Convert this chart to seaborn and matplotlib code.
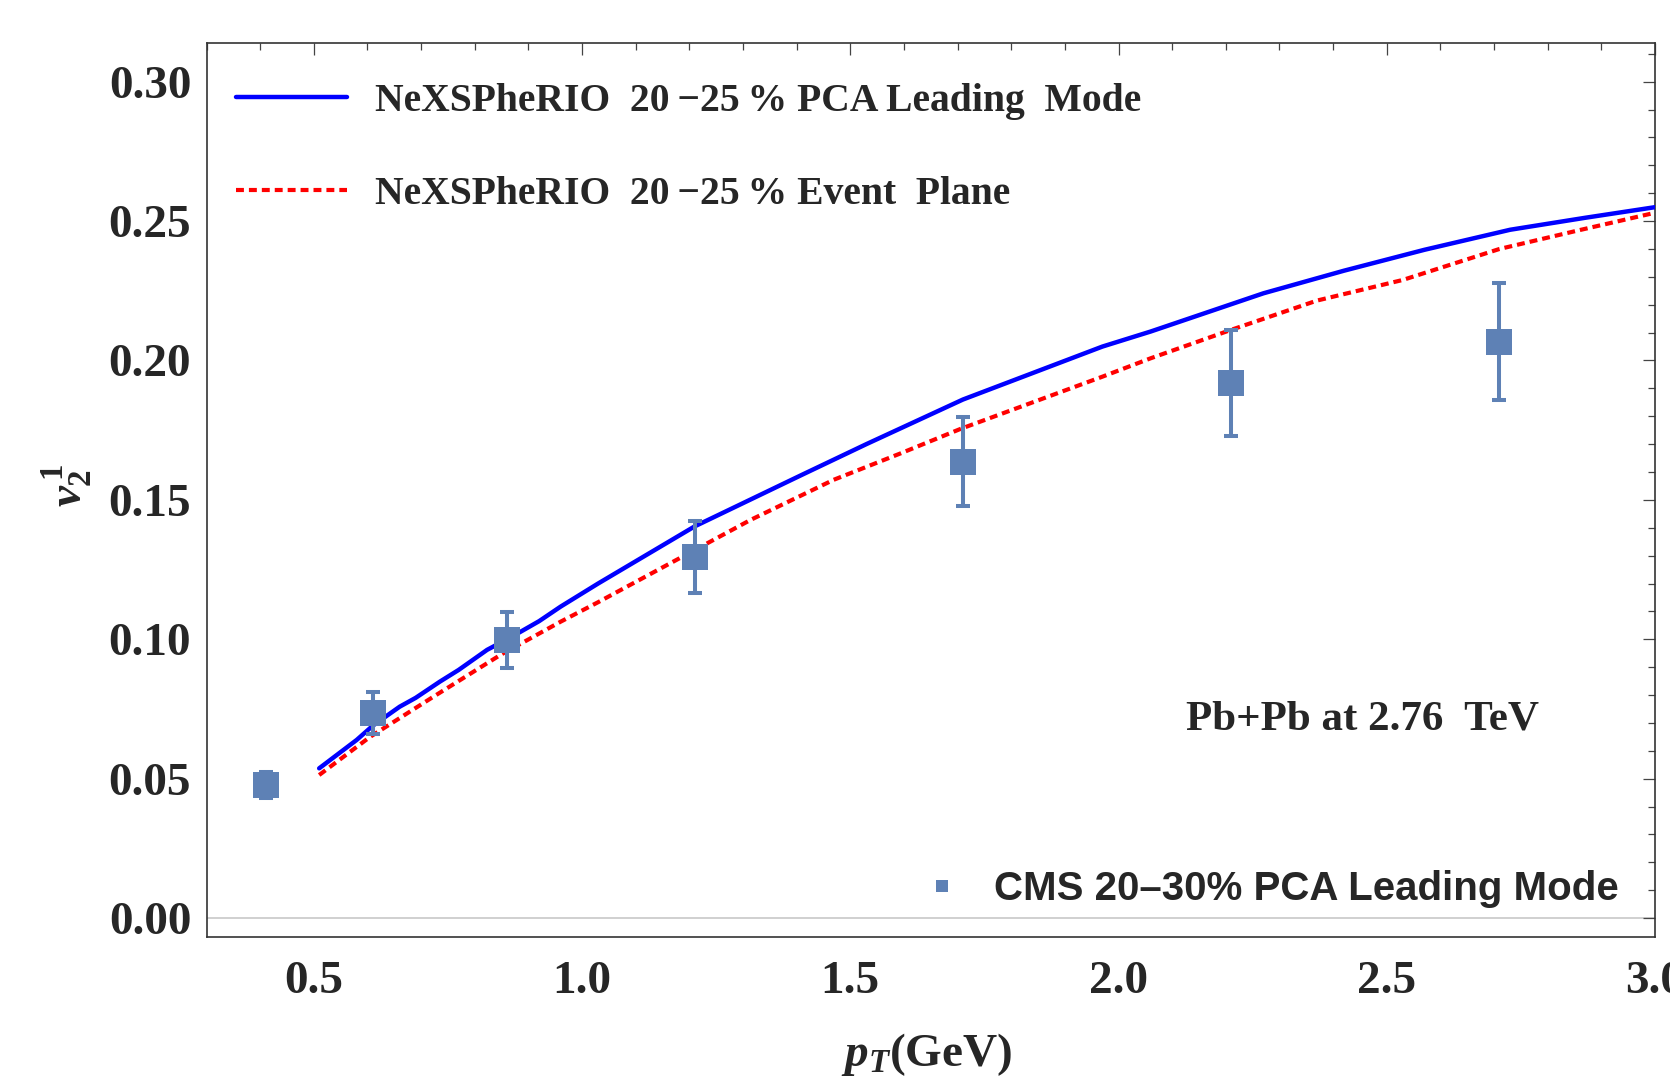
import numpy as np
import pandas as pd
import matplotlib
matplotlib.use("Agg")
import matplotlib.pyplot as plt
import seaborn as sns
from matplotlib.lines import Line2D
from matplotlib.ticker import MultipleLocator, FormatStrFormatter

# ---------------- data ----------------
pt_pca = [0.51, 0.58, 0.61, 0.66, 0.69, 0.735, 0.77, 0.823, 0.87, 0.92, 0.96, 1.03,
          1.21, 1.41, 1.53, 1.71, 1.84, 1.97, 2.06, 2.27, 2.42, 2.57, 2.73, 2.87, 3.0]
v2_pca = [0.0537, 0.0639, 0.0690, 0.0758, 0.0790, 0.0848, 0.0890, 0.0962, 0.1010,
          0.1065, 0.1117, 0.1200, 0.1405, 0.1590, 0.1700, 0.1860, 0.1955, 0.2050,
          0.2104, 0.2241, 0.2322, 0.2397, 0.2469, 0.2512, 0.2550]

pt_ep = [0.51, 0.605, 0.723, 0.848, 0.96, 1.03, 1.21, 1.314, 1.469, 1.594, 1.706,
         1.97, 2.06, 2.21, 2.37, 2.53, 2.71, 2.86, 3.0]
v2_ep = [0.0513, 0.0650, 0.0794, 0.0944, 0.1063, 0.1133, 0.1320, 0.1428, 0.1572,
         0.1667, 0.1755, 0.1942, 0.2008, 0.2110, 0.2215, 0.2289, 0.2400, 0.2468, 0.2530]

pt_cms = [0.41, 0.61, 0.86, 1.21, 1.71, 2.21, 2.71]
v2_cms = [0.0477, 0.0735, 0.0997, 0.1296, 0.1637, 0.1919, 0.2068]
err_cms = [0.0047, 0.0075, 0.0100, 0.0130, 0.0160, 0.0190, 0.0210]

label_pca = "NeXSPheRIO  20\u2009−25\u2009% PCA Leading  Mode"
label_ep = "NeXSPheRIO  20\u2009−25\u2009% Event  Plane"
label_cms = "CMS 20–30% PCA Leading Mode"
annot = "Pb+Pb at 2.76  TeV"

x_major = [0.5, 1.0, 1.5, 2.0, 2.5, 3.0]
y_major = [0.00, 0.05, 0.10, 0.15, 0.20, 0.25, 0.30]

# ---------------- style ----------------
sns.set_style("white")
plt.rcParams["font.family"] = ["Liberation Serif", "DejaVu Serif"]
plt.rcParams["font.weight"] = "bold"
plt.rcParams["mathtext.fontset"] = "custom"
plt.rcParams["mathtext.rm"] = "Liberation Serif:bold"
plt.rcParams["mathtext.it"] = "Liberation Serif:italic:bold"
plt.rcParams["mathtext.bf"] = "Liberation Serif:bold"

W, H = 1670, 1078
fig = plt.figure(figsize=(W / 100, H / 100), dpi=100)
left, right, top, bottom = 206.5, 1655, 42.7, 937
ax = fig.add_axes([left / W, (H - bottom) / H, (right - left) / W, (bottom - top) / H])

cms_color = "#5E81B5"

df_pca = pd.DataFrame({"pt": pt_pca, "v2": v2_pca})
df_ep = pd.DataFrame({"pt": pt_ep, "v2": v2_ep})
df_cms = pd.DataFrame({"pt": pt_cms, "v2": v2_cms, "err": err_cms})

ax.axhline(0, color="#c8c8c8", lw=1.2, zorder=0.5)

sns.lineplot(data=df_pca, x="pt", y="v2", ax=ax, color="#0000FF", linewidth=3.2,
             sort=False, legend=False, zorder=3)
sns.lineplot(data=df_ep, x="pt", y="v2", ax=ax, color="#FF0000", linewidth=3.0,
             sort=False, legend=False, zorder=3)
ax.lines[-1].set_dashes((1.9, 1.2))
ax.lines[-1].set_dash_capstyle("butt")

ax.errorbar(df_cms["pt"], df_cms["v2"], yerr=df_cms["err"], fmt="none",
            ecolor=cms_color, elinewidth=2.9, capsize=4.8, capthick=2.9, zorder=4)
sns.scatterplot(data=df_cms, x="pt", y="v2", ax=ax, marker="s", s=340,
                color=cms_color, linewidth=0, legend=False, zorder=5)

ax.set_xlim(0.3, 3.0)
ax.set_ylim(-0.0068, 0.314)
ax.xaxis.set_minor_locator(MultipleLocator(0.1))
ax.yaxis.set_minor_locator(MultipleLocator(0.01))
ax.set_xticks(x_major)
ax.set_yticks(y_major)
ax.xaxis.set_major_formatter(FormatStrFormatter("%.1f"))
ax.yaxis.set_major_formatter(FormatStrFormatter("%.2f"))

ax.tick_params(which="both", direction="in", top=True, right=True,
               color="#444444", width=0.9)
ax.tick_params(which="major", length=8.6, labelsize=34, pad=11)
ax.tick_params(which="minor", length=5)
ax.tick_params(axis="x", which="major", pad=17)
for lab in ax.get_xticklabels() + ax.get_yticklabels():
    lab.set_fontweight("bold")
for sp in ax.spines.values():
    sp.set_color("#333333")
    sp.set_linewidth(1.2)

ax.set_xlabel(r"$p_T$(GeV)", fontsize=34, fontweight="bold")
ax.set_ylabel(r"$v_2^{\,1}$", fontsize=34, fontweight="bold")
ax.xaxis.set_label_coords((927 - left) / (right - left), -(1031 - bottom) / (bottom - top))
ax.yaxis.set_label_coords((94 - left) / (right - left), (bottom - 485) / (bottom - top))

ax.text(2.455, 0.0675, annot, fontsize=31, fontweight="bold", ha="center", va="baseline")

# legends
h1 = Line2D([], [], color="#0000FF", lw=3.2)
h2 = Line2D([], [], color="#FF0000", lw=3.0, dashes=(1.9, 1.2), dash_capstyle="butt")
leg1 = ax.legend([h1, h2], [label_pca, label_ep], loc="upper left",
                 bbox_to_anchor=(0.0204, 0.955), frameon=False, borderpad=0,
                 borderaxespad=0, handlelength=2.8, handletextpad=0.72,
                 labelspacing=1.42,
                 prop={"family": "Liberation Serif", "weight": "bold", "size": 28.5})
ax.add_artist(leg1)

h3 = Line2D([], [], color=cms_color, marker="s", markersize=8, lw=0, markeredgewidth=0)
leg2 = ax.legend([h3], [label_cms], loc="lower right", bbox_to_anchor=(0.975, 0.032),
                 frameon=False, borderpad=0, borderaxespad=0, handlelength=1.0,
                 handletextpad=0.8,
                 prop={"family": "Liberation Sans", "weight": "bold", "size": 29})

fig.savefig("out.png", dpi=100)
